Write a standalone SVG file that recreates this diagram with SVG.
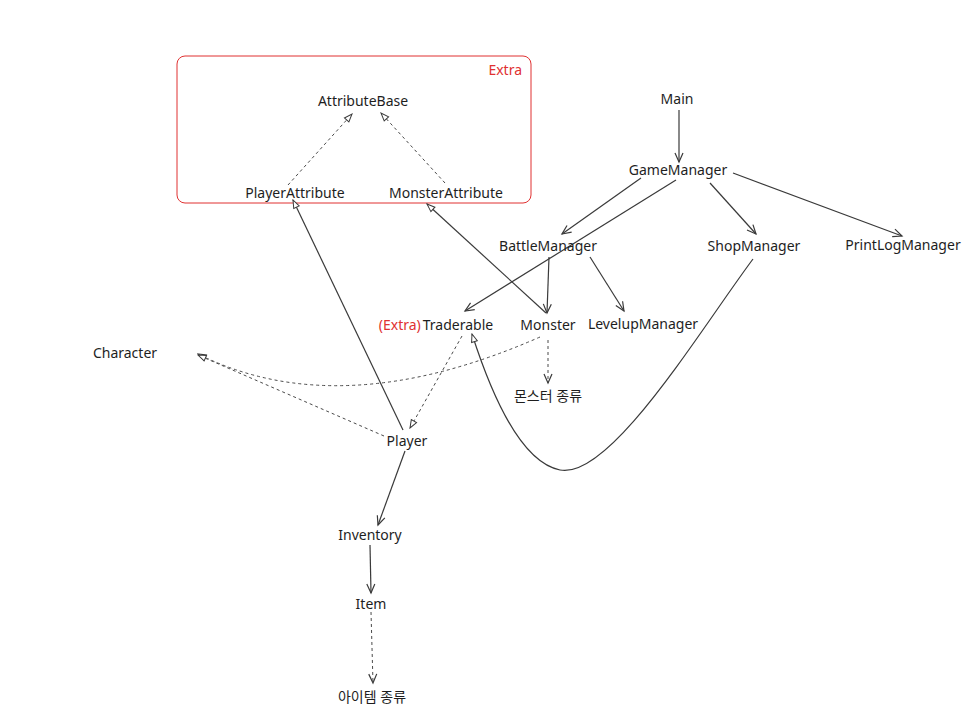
<svg xmlns="http://www.w3.org/2000/svg" width="978" height="724" viewBox="0 0 978 724">
<style>
text{font-family:"Noto Sans","Noto Sans CJK KR",sans-serif;font-size:14px;fill:#1e1e1e;text-anchor:middle;dominant-baseline:central}
.red{fill:#e03131}
.l{fill:none;stroke:#3a3a3a;stroke-width:1.2}
.d{fill:none;stroke:#4a4a4a;stroke-width:1;stroke-dasharray:3 3}
.open{marker-end:url(#arr)}
.tri{marker-end:url(#tri)}
</style>
<defs>
<marker id="arr" markerUnits="userSpaceOnUse" markerWidth="12" markerHeight="12" refX="10" refY="5" orient="auto" viewBox="0 0 12 10">
<path d="M1,1 L10,5 L1,9" fill="none" stroke="#3a3a3a" stroke-width="1.2"/>
</marker>
<marker id="tri" markerUnits="userSpaceOnUse" markerWidth="10" markerHeight="10" refX="9" refY="4" orient="auto" viewBox="0 0 10 8">
<path d="M1,1 L9,4 L1,7 Z" fill="#fff" stroke="#3a3a3a" stroke-width="1"/>
</marker>
</defs>
<rect width="978" height="724" fill="#fff"/>
<g id="extra-box">
<rect x="177" y="56" width="354" height="147" rx="8" fill="none" stroke="#e03131" stroke-width="1"/>
<text x="522" y="69" class="red" style="text-anchor:end">Extra</text>
</g>
<g id="connectors">
<path class="d tri" d="M288,185 L352,114"/>
<path class="d tri" d="M445,183 L381,113"/>
<path class="l tri" d="M403,430 L293,200"/>
<path class="l tri" d="M546,313 L427,204"/>
<path class="l open" d="M679,110 L679,162"/>
<path class="l open" d="M641,178 L562,234"/>
<path class="l open" d="M676,180 L465,311"/>
<path class="l open" d="M710,183 L756,234"/>
<path class="l open" d="M733,173 L902,236"/>
<path class="l open" d="M549,257 L547,313"/>
<path class="l open" d="M590,257 L624,311"/>
<path class="l tri" d="M753,259 C700,330 610,480 560,470 C520,462 490,390 472,334"/>
<path class="d tri" d="M540,337 Q340,425 198,354"/>
<path class="d tri" d="M384,436 L198,355"/>
<path class="d tri" d="M462,336 L410,428"/>
<path class="d open" d="M548,340 L548,383"/>
<path class="l open" d="M405,451 L378,525"/>
<path class="l open" d="M370,545 L371,593"/>
<path class="d open" d="M371,612 L373,683"/>
</g>
<g id="AttributeBase"><text x="363" y="100">AttributeBase</text></g>
<g id="PlayerAttribute"><text x="295" y="192">PlayerAttribute</text></g>
<g id="MonsterAttribute"><text x="446" y="192">MonsterAttribute</text></g>
<g id="Main"><text x="677" y="98">Main</text></g>
<g id="GameManager"><text x="678" y="169">GameManager</text></g>
<g id="BattleManager"><text x="548" y="245">BattleManager</text></g>
<g id="ShopManager"><text x="754" y="245">ShopManager</text></g>
<g id="PrintLogManager"><text x="903" y="244">PrintLogManager</text></g>
<g id="Traderable"><text x="436" y="324"><tspan class="red">(Extra)</tspan><tspan dx="2">Traderable</tspan></text></g>
<g id="Monster"><text x="548" y="324">Monster</text></g>
<g id="LevelupManager"><text x="643" y="323">LevelupManager</text></g>
<g id="Character"><text x="125" y="352">Character</text></g>
<g id="MonsterTypes"><text x="548" y="395">몬스터 종류</text></g>
<g id="Player"><text x="407" y="440">Player</text></g>
<g id="Inventory"><text x="370" y="534">Inventory</text></g>
<g id="Item"><text x="371" y="603">Item</text></g>
<g id="ItemTypes"><text x="372" y="696">아이템 종류</text></g>
</svg>
